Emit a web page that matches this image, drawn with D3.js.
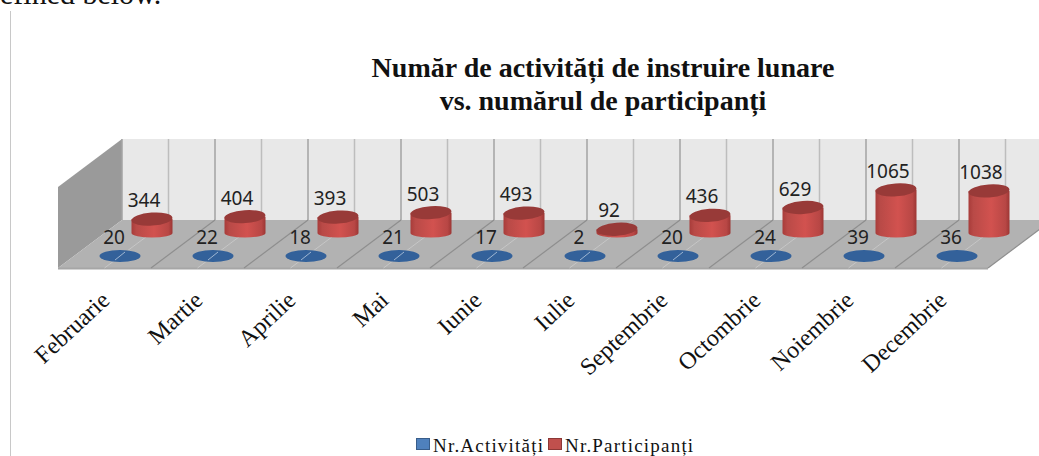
<!DOCTYPE html>
<html>
<head>
<meta charset="utf-8">
<script src="https://cdn.jsdelivr.net/npm/d3@7"></script>
<style>
  html, body { margin: 0; padding: 0; background: #fff; overflow: hidden; }
  svg { display: block; font-family: "Liberation Serif", serif; }
</style>
</head>
<body>
<svg width="1039" height="456"></svg>
<script>
const months = ["Februarie", "Martie", "Aprilie", "Mai", "Iunie", "Iulie", "Septembrie", "Octombrie", "Noiembrie", "Decembrie"];
const activitati = [20, 22, 18, 21, 17, 2, 20, 24, 39, 36];
const participanti = [344, 404, 393, 503, 493, 92, 436, 629, 1065, 1038];
const seriesNames = ["Nr.Activități", "Nr.Participanți"];
const titleLines = ["Număr de activități de instruire lunare", "vs. numărul de participanți"];
const yMax = 2000;

const svg = d3.select("svg");

const frontLeft = 58, backLeft = 122, step = 93,
  frontY = 268, backY = 220, wallTop = 139;
const depthX = backLeft - frontLeft, depthY = frontY - backY;

// x position along the front edge of the floor, h is the height in px
const x = d3.scaleBand().domain(months).range([frontLeft, frontLeft + step * months.length]);
const h = d3.scaleLinear().domain([0, yMax]).range([0, backY - wallTop]);

const defs = svg.append("defs");
const redBody = defs.append("linearGradient").attr("id", "red-body");
[[0, "#a83c3a"], [0.12, "#b94a47"], [0.55, "#d2524f"], [0.9, "#b84745"], [1, "#9c3634"]]
  .forEach(([o, c]) => redBody.append("stop").attr("offset", o).attr("stop-color", c));

// end of the sentence above the chart, cut by the top of the page
svg.append("text").attr("x", 0).attr("y", 4).attr("font-size", 30).attr("fill", "#111").text("efined below.");

// page frame line on the left
svg.append("line").attr("x1", 10.5).attr("x2", 10.5).attr("y1", 11).attr("y2", 456).attr("stroke", "#c8c8c8");

const title = svg.append("text").attr("text-anchor", "middle").attr("font-size", 28).attr("font-weight", "bold").attr("fill", "#111");
titleLines.forEach((t, i) => title.append("tspan").attr("x", 603).attr("y", 77 + i * 33).text(t));

const n = months.length;
const wallRight = backLeft + step * n;
const floorRight = frontLeft + step * n;

// back wall
svg.append("rect").attr("x", backLeft).attr("y", wallTop).attr("width", wallRight - backLeft).attr("height", backY - wallTop).attr("fill", "#e8e8e8");

// side wall
svg.append("polygon")
  .attr("points", [[frontLeft, wallTop + depthY], [backLeft, wallTop], [backLeft, backY], [frontLeft, frontY]].join(" "))
  .attr("fill", "#9a9a9a");

// floor
svg.append("polygon")
  .attr("points", [[frontLeft, frontY], [backLeft, backY], [wallRight, backY], [floorRight, frontY]].join(" "))
  .attr("fill", "#b2b2b2");
svg.append("line").attr("x1", frontLeft).attr("x2", floorRight).attr("y1", frontY + 0.5).attr("y2", frontY + 0.5).attr("stroke", "#a6a6a6").attr("stroke-width", 2);

// wall gridlines, dark on category edges and light in between
d3.range(0, n * 2 + 1).forEach((i) => {
  const gx = backLeft + i * step / 2;
  svg.append("line").attr("x1", gx).attr("x2", gx).attr("y1", wallTop).attr("y2", backY)
    .attr("stroke", i % 2 ? "#bdbdbd" : "#a3a3a3").attr("stroke-width", 1.5);
});
// floor lines, same rhythm as the wall
d3.range(1, n * 2 + 1).forEach((i) => {
  const fx = frontLeft + i * step / 2;
  svg.append("line").attr("x1", fx).attr("y1", frontY).attr("x2", fx + depthX).attr("y2", backY)
    .attr("stroke", i % 2 ? "#c6c6c6" : "#8e8e8e").attr("stroke-width", i % 2 ? 1 : 1.2);
});

const rx = 20.5, ry = 6.5;

// blue discs at the front
const blueCx = (m) => x(m) + step * 0.667;
const blueCy = 256;
svg.append("g").selectAll("ellipse").data(months).join("ellipse")
  .attr("cx", blueCx).attr("cy", blueCy).attr("rx", rx).attr("ry", 6).attr("fill", "#33619a");
// the light floor line still shows through the flattest discs
svg.append("g").selectAll("line").data(months.filter((m, i) => activitati[i] < 30)).join("line")
  .attr("x1", (m) => blueCx(m) - 5).attr("y1", blueCy + 4)
  .attr("x2", (m) => blueCx(m) + 5).attr("y2", blueCy - 4)
  .attr("stroke", "#9fb6d2").attr("stroke-width", 1);
svg.append("g").selectAll("text").data(months).join("text")
  .attr("x", (m) => blueCx(m) - 6).attr("y", 243.5).attr("text-anchor", "middle")
  .attr("font-family", "'Noto Sans', sans-serif").attr("font-size", 19).attr("fill", "#222")
  .text((m, i) => activitati[i]);

// red cylinders at the back
const redCx = (m) => x(m) + step + 1;
const redBase = 233;
const redG = svg.append("g").selectAll("g").data(months).join("g");
redG.append("path")
  .attr("d", (m, i) => {
    const cx = redCx(m), top = redBase - h(participanti[i]);
    return `M${cx - rx},${top} L${cx - rx},${redBase} A${rx},4.5 0 0 0 ${cx + rx},${redBase} L${cx + rx},${top} Z`;
  })
  .attr("fill", "url(#red-body)");
redG.append("ellipse")
  .attr("cx", redCx).attr("cy", (m, i) => redBase - h(participanti[i]))
  .attr("rx", rx).attr("ry", ry)
  .attr("transform", (m, i) => `rotate(-4 ${redCx(m)} ${redBase - h(participanti[i])})`)
  .attr("fill", "#983a38");
svg.append("g").selectAll("text").data(months).join("text")
  .attr("x", (m) => redCx(m) - 8).attr("y", (m, i) => redBase - h(participanti[i]) - 12)
  .attr("text-anchor", "middle")
  .attr("font-family", "'Noto Sans', sans-serif").attr("font-size", 19).attr("fill", "#222")
  .text((m, i) => participanti[i]);

// rotated month labels
svg.append("g").selectAll("text").data(months).join("text")
  .attr("transform", (m) => `translate(${x(m) + step * 0.57},${302}) rotate(-43)`)
  .attr("text-anchor", "end").attr("font-size", 24).attr("fill", "#111")
  .text((m) => m);

// legend
const legend = svg.append("g");
const legendPos = [[416, 433], [548, 565]];
seriesNames.forEach((name, i) => {
  legend.append("rect").attr("x", legendPos[i][0] + 0.5).attr("y", 438.5).attr("width", 13).attr("height", 11)
    .attr("fill", i ? "#c0504d" : "#4f81bd").attr("stroke", i ? "#8c3836" : "#385d8a");
  legend.append("text").attr("x", legendPos[i][1]).attr("y", 451.5).attr("font-size", 19)
    .attr("letter-spacing", 1.2).attr("fill", "#111").text(name);
});
</script>
</body>
</html>
